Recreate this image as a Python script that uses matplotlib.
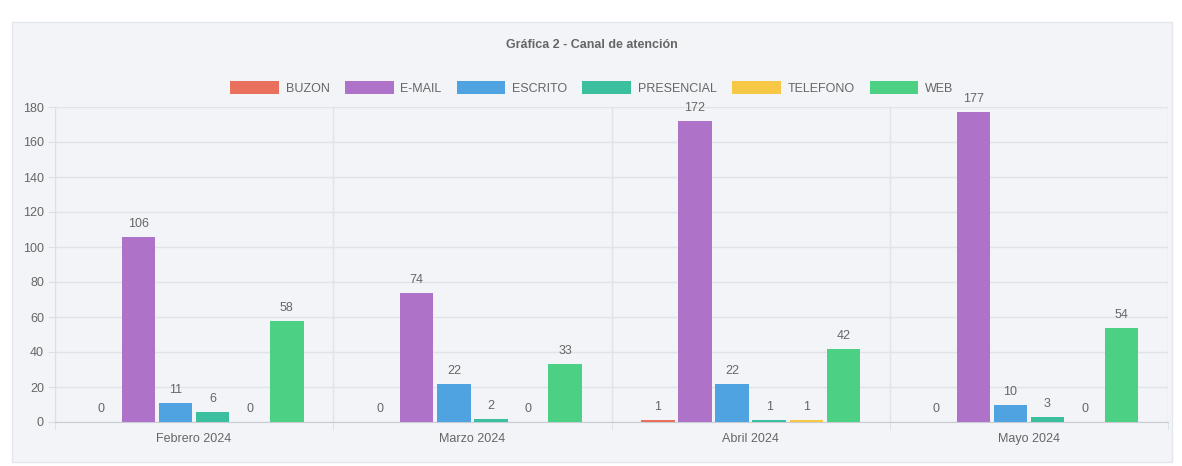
import matplotlib
matplotlib.use("Agg")
import matplotlib.pyplot as plt
import numpy as np
from matplotlib.patches import Rectangle, Patch

categories = ["Febrero 2024", "Marzo 2024", "Abril 2024", "Mayo 2024"]
series_names = ["BUZON", "E-MAIL", "ESCRITO", "PRESENCIAL", "TELEFONO", "WEB"]
buzon = [0, 0, 1, 0]
email = [106, 74, 172, 177]
escrito = [11, 22, 22, 10]
presencial = [6, 2, 1, 3]
telefono = [0, 0, 1, 0]
web = [58, 33, 42, 54]
colors = ["#e8705c", "#ae72c8", "#4fa3e0", "#3cbf9e", "#f6c845", "#4cd184"]
yticks = list(range(0, 181, 20))

values = [buzon, email, escrito, presencial, telefono, web]

plt.rcParams['font.family'] = ['Liberation Sans', 'DejaVu Sans']
W, H = 1182, 466
fig = plt.figure(figsize=(W / 100, H / 100), dpi=100)
fig.patch.set_facecolor("white")

# panel background
panel = Rectangle((12 / W, 1 - 462 / H), (1172 - 12) / W, (462 - 22) / H,
                  transform=fig.transFigure, facecolor="#f2f4f7",
                  edgecolor="#e4e7eb", linewidth=1, zorder=-10)
fig.patches.append(panel)

ax = fig.add_axes([55 / W, 1 - 422 / H, (1168 - 55) / W, (422 - 107) / H])
ax.set_facecolor("none")
ax.set_zorder(5)

n = len(series_names)
slot = 0.8 / n
bw = slot * 0.9
x = np.arange(len(categories))
for i, (name, vals, c) in enumerate(zip(series_names, values, colors)):
    pos = x + (i - (n - 1) / 2) * slot
    ax.bar(pos, vals, width=bw, color=c, label=name, zorder=3)
    for p, v in zip(pos, vals):
        ax.annotate(str(v), (p, v), xytext=(0, 5), textcoords="offset points",
                    ha="center", va="bottom", fontsize=9, color="#666666")

ax.set_xlim(-0.5, len(categories) - 0.5)
ax.set_ylim(0, 180)
ax.set_yticks(yticks)
ax.set_xticks(x)
ax.set_xticklabels(categories)
ax.set_xticks(np.arange(len(categories) + 1) - 0.5, minor=True)
ax.tick_params(axis="x", which="major", length=0, pad=8, labelsize=9, labelcolor="#666666")
ax.tick_params(axis="x", which="minor", length=6, color="#dcdfe4")
ax.tick_params(axis="y", length=5, color="#dcdfe4", labelsize=9, labelcolor="#666666", pad=3)
ax.grid(axis="y", color="#e0e3e8", linewidth=1, zorder=0)
ax.grid(axis="x", which="minor", color="#e0e3e8", linewidth=1, zorder=0)
ax.set_axisbelow(True)
for s in ["top", "right"]:
    ax.spines[s].set_visible(False)
ax.spines["left"].set_color("#dcdfe4")
ax.spines["bottom"].set_color("#c8ccd2")

fig.text(592 / W, 1 - 45 / H, "Gráfica 2 - Canal de atención", ha="center", va="center",
         fontsize=9, fontweight="bold", color="#666666")

handles = [Patch(facecolor=c, edgecolor="none") for c in colors]
leg = fig.legend(handles, series_names, loc="center", bbox_to_anchor=(592 / W, 1 - 88 / H),
                 ncol=n, frameon=False, fontsize=9, handlelength=3.9, handleheight=1.2,
                 handletextpad=0.55, columnspacing=1.2, labelcolor="#666666")

fig.savefig("out.png", dpi=100, facecolor="white")
